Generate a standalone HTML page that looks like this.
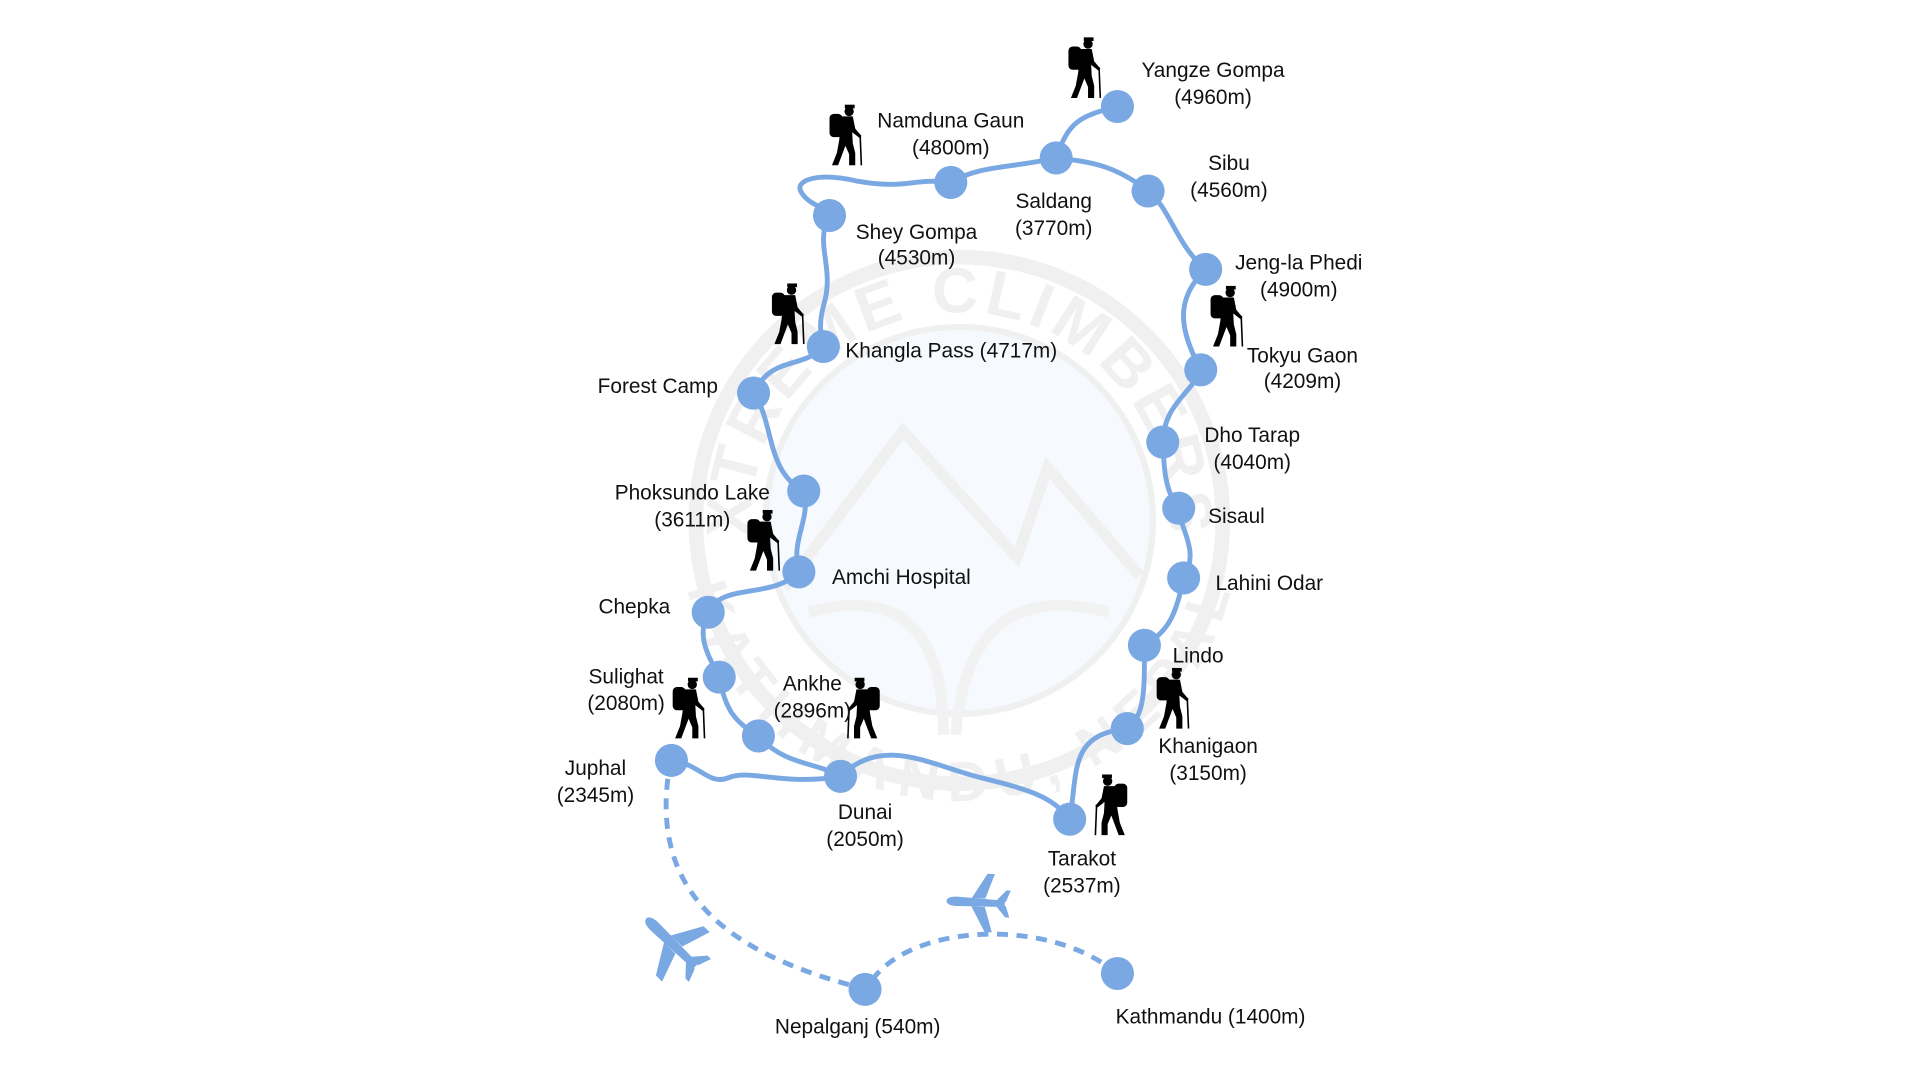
<!DOCTYPE html>
<html><head><meta charset="utf-8"><style>
html,body{margin:0;padding:0;background:#fff;}
svg{display:block;}
text{font-family:"Liberation Sans",sans-serif;font-size:17px;fill:#111;}
</style></head><body>
<svg width="1920" height="1080" viewBox="0 0 1567 882" preserveAspectRatio="none" xmlns="http://www.w3.org/2000/svg">
<defs>
<g id="hk">
  <circle cx="6" cy="-44" r="3.8" fill="#000"/>
  <rect x="2.5" y="-49.5" width="8" height="3" fill="#000"/>
  <rect x="-10" y="-42" width="10.5" height="19" rx="3.5" fill="#000"/>
  <path d="M-1,-40 L9,-40 L11,-30 L16,-24 L15,-22 L8.5,-27 L9,-18 L11,-10 L11,0 L6,0 L6,-9 L3,-16 L0,-8 L-3,0 L-8,0 L-4,-10 L-2,-21 Z" fill="#000"/>
  <line x1="15" y1="-25" x2="16" y2="0" stroke="#000" stroke-width="1.3"/>
</g>
<g id="pl">
  <path d="M30,0 C30,-3 26,-4.5 20,-4.5 L-26,-3 L-26,3 L20,4.5 C26,4.5 30,3 30,0 Z" fill="#7aa8e2"/>
  <path d="M6,-4 L-8,-28 L-15,-28 L-7,-4 Z M6,4 L-8,28 L-15,28 L-7,4 Z" fill="#7aa8e2"/>
  <path d="M-18,-3 L-27,-13 L-31,-13 L-27,-2 Z M-18,3 L-27,13 L-31,13 L-27,2 Z" fill="#7aa8e2"/>
</g>
<path id="arcTop" d="M613,425 A170,170 0 0 1 953,425"/>
<path id="arcBot" d="M588,425 A195,195 0 0 0 978,425"/>
</defs>

<!-- watermark -->
<circle cx="783" cy="425" r="215" fill="none" stroke="#f0f0f0" stroke-width="12"/>
<circle cx="783" cy="425" r="158" fill="#f6f9fd" stroke="#f0f0f0" stroke-width="5"/>
<path d="M640,480 L737,352 L830,455 L855,382 L930,470" fill="none" stroke="#f0f0f0" stroke-width="9"/>
<path d="M660,500 Q770,470 770,600 M905,500 Q790,470 780,600" fill="none" stroke="#f2f2f2" stroke-width="9"/>
<text font-weight="bold" style="fill:#f0f0f0;font-size:52px" letter-spacing="4"><textPath href="#arcTop" startOffset="50%" text-anchor="middle">XTREME CLIMBERS</textPath></text>
<text style="fill:#f0f0f0;font-size:46px" font-weight="bold" letter-spacing="3" dy="34"><textPath href="#arcBot" startOffset="50%" text-anchor="middle">KATHMANDU, NEPAL</textPath></text>

<!-- route -->
<g fill="none" stroke="#7aa8e2" stroke-width="4" stroke-linecap="round">
<path d="M548,621 C572,624 578,642 595,635 C612,628 640,642 686,634"/>
<path d="M686,634 C720,600 760,625 800,635 C840,645 858,650 873,669"/>
<path d="M873,669 C880,630 872,600 920,595"/>
<path d="M920,595 C935,585 934,560 934,527"/>
<path d="M934,527 C955,515 960,500 966,472"/>
<path d="M966,472 C980,450 962,430 962,415"/>
<path d="M962,415 C950,400 950,380 949,361"/>
<path d="M949,361 C950,330 972,322 980,302"/>
<path d="M980,302 C963,270 958,245 984,220"/>
<path d="M984,220 C960,200 955,170 937,156"/>
<path d="M937,156 C910,135 890,132 862,129"/>
<path d="M862,129 C872,100 880,95 912,87"/>
<path d="M862,129 C820,138 800,135 776,149"/>
<path d="M776,149 C745,145 740,155 700,148 C665,140 648,148 654,157 C660,168 677,170 677,176"/>
<path d="M677,176 C664,200 682,218 672,250 C668,265 670,275 672,283"/>
<path d="M672,283 C655,302 630,290 615,321"/>
<path d="M615,321 C632,345 625,385 656,401"/>
<path d="M656,401 C662,425 645,440 652,467"/>
<path d="M652,467 C630,490 590,475 578,500"/>
<path d="M578,500 C568,520 578,535 587,553"/>
<path d="M587,553 C592,580 600,590 619,601"/>
<path d="M619,601 C640,625 665,622 686,634"/>
</g>
<g fill="none" stroke="#7aa8e2" stroke-width="4" stroke-dasharray="9,7">
<path d="M545,636 C535,720 580,775 700,806"/>
<path d="M712,800 C745,755 850,750 905,790"/>
</g>

<!-- nodes -->
<g fill="#7aa8e2">
<circle cx="912" cy="87" r="13.5"/><circle cx="862" cy="129" r="13.5"/><circle cx="937" cy="156" r="13.5"/>
<circle cx="776" cy="149" r="13.5"/><circle cx="677" cy="176" r="13.5"/><circle cx="984" cy="220" r="13.5"/>
<circle cx="980" cy="302" r="13.5"/><circle cx="672" cy="283" r="13.5"/><circle cx="615" cy="321" r="13.5"/>
<circle cx="949" cy="361" r="13.5"/><circle cx="656" cy="401" r="13.5"/><circle cx="962" cy="415" r="13.5"/>
<circle cx="652" cy="467" r="13.5"/><circle cx="966" cy="472" r="13.5"/><circle cx="578" cy="500" r="13.5"/>
<circle cx="934" cy="527" r="13.5"/><circle cx="587" cy="553" r="13.5"/><circle cx="619" cy="601" r="13.5"/>
<circle cx="920" cy="595" r="13.5"/><circle cx="548" cy="621" r="13.5"/><circle cx="686" cy="634" r="13.5"/>
<circle cx="873" cy="669" r="13.5"/><circle cx="706" cy="808" r="13.5"/><circle cx="912" cy="795" r="13.5"/>
</g>

<!-- planes -->
<use href="#pl" transform="translate(549,771) rotate(-136)"/>
<use href="#pl" transform="translate(798,737) rotate(183) scale(0.85)"/>

<!-- hikers -->
<use href="#hk" transform="translate(882,80)"/>
<use href="#hk" transform="translate(687,135)"/>
<use href="#hk" transform="translate(640,281)"/>
<use href="#hk" transform="translate(998,283)"/>
<use href="#hk" transform="translate(620,466)"/>
<use href="#hk" transform="translate(559,603)"/>
<use href="#hk" transform="translate(954,595)"/>
<use href="#hk" transform="translate(708,603) scale(-1,1)"/>
<use href="#hk" transform="translate(910,682) scale(-1,1)"/>

<!-- labels -->
<g text-anchor="middle">
<text x="990" y="63">Yangze Gompa</text><text x="990" y="85">(4960m)</text>
<text x="860" y="170">Saldang</text><text x="860" y="192">(3770m)</text>
<text x="1003" y="139">Sibu</text><text x="1003" y="161">(4560m)</text>
<text x="776" y="104">Namduna Gaun</text><text x="776" y="126">(4800m)</text>
<text x="748" y="195">Shey Gompa</text><text x="748" y="216">(4530m)</text>
<text x="1060" y="220">Jeng-la Phedi</text><text x="1060" y="242">(4900m)</text>
<text x="1063" y="296">Tokyu Gaon</text><text x="1063" y="317">(4209m)</text>
<text x="1022" y="361">Dho Tarap</text><text x="1022" y="383">(4040m)</text>
<text x="565" y="408">Phoksundo Lake</text><text x="565" y="430">(3611m)</text>
<text x="511" y="558">Sulighat</text><text x="511" y="580">(2080m)</text>
<text x="663" y="564">Ankhe</text><text x="663" y="586">(2896m)</text>
<text x="986" y="615">Khanigaon</text><text x="986" y="637">(3150m)</text>
<text x="486" y="633">Juphal</text><text x="486" y="655">(2345m)</text>
<text x="706" y="669">Dunai</text><text x="706" y="691">(2050m)</text>
<text x="883" y="707">Tarakot</text><text x="883" y="729">(2537m)</text>
<text x="700" y="844">Nepalganj (540m)</text>
<text x="988" y="836">Kathmandu (1400m)</text>
</g>
<text x="690" y="292">Khangla Pass (4717m)</text>
<text x="586" y="321" text-anchor="end">Forest Camp</text>
<text x="986" y="427">Sisaul</text>
<text x="679" y="477">Amchi Hospital</text>
<text x="992" y="482">Lahini Odar</text>
<text x="547" y="501" text-anchor="end">Chepka</text>
<text x="957" y="541">Lindo</text>
</svg>
</body></html>
